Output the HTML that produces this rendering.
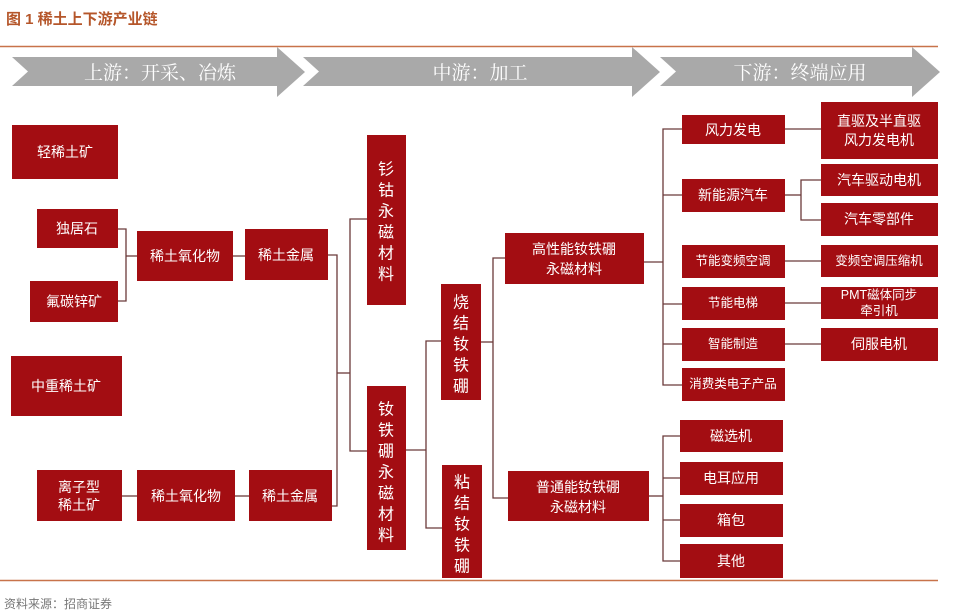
<!DOCTYPE html>
<html><head><meta charset="utf-8"><style>
body{margin:0;background:#fff;}
svg{display:block;font-family:"Liberation Sans","Noto Sans CJK SC",sans-serif;}
.b{fill:#a30d12;}
.t{fill:#fff;font-size:14px;text-anchor:middle;dominant-baseline:central;}
.s{fill:#fff;font-size:12.5px;text-anchor:middle;dominant-baseline:central;}
.v{fill:#fff;font-size:16px;text-anchor:middle;dominant-baseline:central;}
.l{stroke:#6b3a3a;stroke-width:1.3;fill:none;}
</style></head><body>
<svg width="958" height="615" viewBox="0 0 958 615">
<text x="6" y="24" font-size="15" font-weight="bold" fill="#b5562a">图 1 稀土上下游产业链</text>
<line x1="0" y1="46.5" x2="938" y2="46.5" stroke="#c8734a" stroke-width="1.5"/>
<g fill="#a9a9a9">
<polygon points="12,57 277,57 277,47 305,72 277,97 277,86 12,86 28,71.5"/>
<polygon points="303,57 632,57 632,47 660,72 632,97 632,86 303,86 319,71.5"/>
<polygon points="660,57 912,57 912,47 940,72 912,97 912,86 660,86 676,71.5"/>
</g>
<g fill="#fff" font-size="19" text-anchor="middle" font-family="'Liberation Serif','Noto Serif CJK SC',serif">
<text x="160" y="79">上游：开采、冶炼</text>
<text x="480" y="79">中游：加工</text>
<text x="800" y="79">下游：终端应用</text>
</g>
<g class="l">
<polyline points="118,229 126,229 126,301 118,301"/><line x1="126" y1="256" x2="137" y2="256"/>
<line x1="233" y1="256" x2="245" y2="256"/>
<line x1="122" y1="496" x2="137" y2="496"/><line x1="235" y1="496" x2="249" y2="496"/>
<polyline points="328,255 337,255 337,506 332,506"/><line x1="337" y1="373" x2="350" y2="373"/>
<polyline points="367,219 350,219 350,451 367,451"/>
<line x1="406" y1="450" x2="426" y2="450"/>
<polyline points="441,341 426,341 426,528 442,528"/>
<line x1="481" y1="342" x2="493" y2="342"/>
<polyline points="505,258 493,258 493,498 508,498"/>
<line x1="644" y1="262" x2="663" y2="262"/>
<polyline points="682,129 663,129 663,385 682,385"/>
<line x1="663" y1="195" x2="682" y2="195"/><line x1="663" y1="304" x2="682" y2="304"/><line x1="663" y1="344" x2="682" y2="344"/>
<line x1="649" y1="496" x2="663" y2="496"/>
<polyline points="680,436 663,436 663,561 680,561"/>
<line x1="663" y1="478" x2="680" y2="478"/><line x1="663" y1="520" x2="680" y2="520"/>
<line x1="785" y1="129" x2="821" y2="129"/>
<line x1="785" y1="195" x2="801" y2="195"/><polyline points="821,180 801,180 801,220 821,220"/>
<line x1="785" y1="261" x2="821" y2="261"/><line x1="785" y1="303" x2="821" y2="303"/><line x1="785" y1="344" x2="821" y2="344"/>
</g>
<g class="b">
<rect x="12" y="125" width="106" height="54"/>
<rect x="37" y="209" width="81" height="39"/>
<rect x="30" y="281" width="88" height="41"/>
<rect x="11" y="356" width="111" height="60"/>
<rect x="137" y="231" width="96" height="50"/>
<rect x="245" y="229" width="83" height="51"/>
<rect x="37" y="470" width="85" height="51"/>
<rect x="137" y="470" width="98" height="51"/>
<rect x="249" y="470" width="83" height="51"/>
<rect x="367" y="135" width="39" height="170"/>
<rect x="367" y="386" width="39" height="164"/>
<rect x="441" y="284" width="40" height="116"/>
<rect x="442" y="465" width="40" height="113"/>
<rect x="505" y="233" width="139" height="51"/>
<rect x="508" y="471" width="141" height="50"/>
<rect x="682" y="115" width="103" height="29"/>
<rect x="682" y="179" width="103" height="33"/>
<rect x="682" y="245" width="103" height="33"/>
<rect x="682" y="287" width="103" height="33"/>
<rect x="682" y="328" width="103" height="33"/>
<rect x="682" y="368" width="103" height="33"/>
<rect x="680" y="420" width="103" height="32"/>
<rect x="680" y="462" width="103" height="33"/>
<rect x="680" y="504" width="103" height="33"/>
<rect x="680" y="544" width="103" height="34"/>
<rect x="821" y="102" width="117" height="57"/>
<rect x="821" y="164" width="117" height="32"/>
<rect x="821" y="203" width="117" height="33"/>
<rect x="821" y="245" width="117" height="32"/>
<rect x="821" y="287" width="117" height="32"/>
<rect x="821" y="328" width="117" height="33"/>
</g>
<text class="t" x="65" y="152" font-size="16">轻稀土矿</text>
<text class="t" x="77" y="228.5">独居石</text>
<text class="t" x="74" y="301.5">氟碳锌矿</text>
<text class="t" x="66" y="386" font-size="16">中重稀土矿</text>
<text class="t" x="185" y="256">稀土氧化物</text>
<text class="t" x="286" y="255">稀土金属</text>
<text class="t" x="79" y="487">离子型</text>
<text class="t" x="79" y="505">稀土矿</text>
<text class="t" x="186" y="496">稀土氧化物</text>
<text class="t" x="290" y="496">稀土金属</text>
<g class="v">
<text x="386" y="170">钐</text><text x="386" y="191">钴</text><text x="386" y="212">永</text><text x="386" y="233">磁</text><text x="386" y="254">材</text><text x="386" y="275">料</text>
<text x="386" y="410">钕</text><text x="386" y="431">铁</text><text x="386" y="452">硼</text><text x="386" y="473">永</text><text x="386" y="494">磁</text><text x="386" y="515">材</text><text x="386" y="536">料</text>
<text x="461" y="303">烧</text><text x="461" y="324">结</text><text x="461" y="345">钕</text><text x="461" y="366">铁</text><text x="461" y="387">硼</text>
<text x="462" y="483">粘</text><text x="462" y="504">结</text><text x="462" y="525">钕</text><text x="462" y="546">铁</text><text x="462" y="567">硼</text>
</g>
<text class="t" x="574" y="249" font-size="16">高性能钕铁硼</text>
<text class="t" x="574" y="269" font-size="16">永磁材料</text>
<text class="t" x="578" y="487" font-size="16">普通能钕铁硼</text>
<text class="t" x="578" y="507" font-size="16">永磁材料</text>
<text class="t" x="733" y="130">风力发电</text>
<text class="t" x="733" y="195">新能源汽车</text>
<text class="s" x="733" y="261">节能变频空调</text>
<text class="s" x="733" y="303">节能电梯</text>
<text class="s" x="733" y="344">智能制造</text>
<text class="s" x="733" y="384" font-size="11.5">消费类电子产品</text>
<text class="t" x="731" y="436">磁选机</text>
<text class="t" x="731" y="478">电耳应用</text>
<text class="t" x="731" y="520">箱包</text>
<text class="t" x="731" y="561">其他</text>
<text class="t" x="879" y="121">直驱及半直驱</text>
<text class="t" x="879" y="140">风力发电机</text>
<text class="t" x="879" y="180">汽车驱动电机</text>
<text class="t" x="879" y="219">汽车零部件</text>
<text class="s" x="879" y="261">变频空调压缩机</text>
<text class="s" x="879" y="295">PMT磁体同步</text>
<text class="s" x="879" y="311">牵引机</text>
<text class="t" x="879" y="344">伺服电机</text>
<line x1="0" y1="580.5" x2="938" y2="580.5" stroke="#c8734a" stroke-width="1.5"/>
<text x="4" y="608" font-size="12" fill="#777">资料来源：招商证券</text>
</svg>
</body></html>
